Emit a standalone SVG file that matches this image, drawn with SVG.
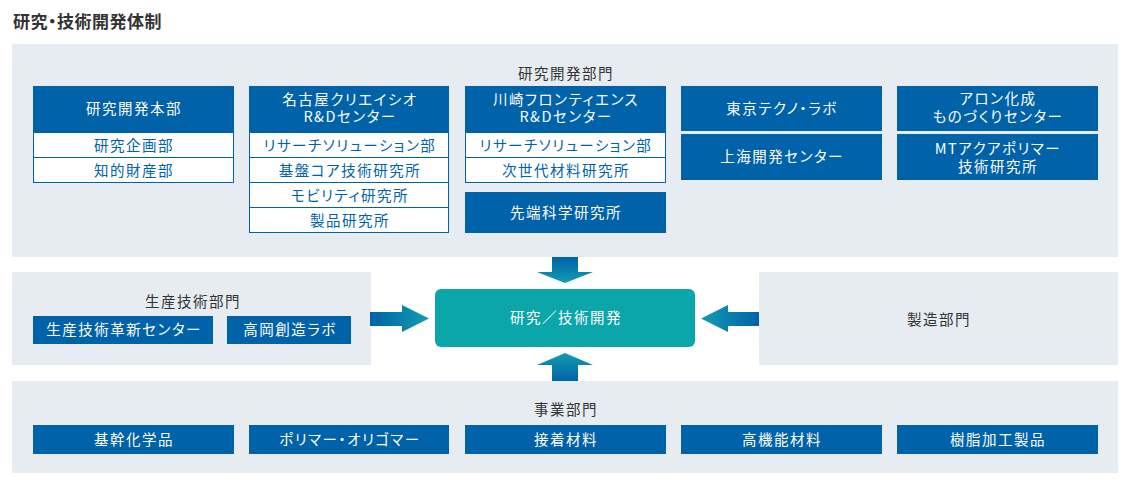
<svg xmlns="http://www.w3.org/2000/svg" width="1138" height="489" viewBox="0 0 1138 489">
<style>
text{font-family:"Noto Sans CJK JP","Noto Sans",sans-serif;font-size:14.5px;letter-spacing:1.5px;text-anchor:middle;font-feature-settings:"palt"}
.title{font-size:17px;font-weight:bold;text-anchor:start;letter-spacing:0.5px;fill:#333}
.panel{fill:#e6ecf2}
.blue{fill:#0062a8}
.row{fill:#fff;stroke:#0062a8;stroke-width:1}
.w{fill:#fff}
.b{fill:#0062a8}
.d{fill:#333}
.core{fill:#0aa6a9}
</style>
<defs>
<linearGradient id="gR" x1="0" y1="0" x2="1" y2="0"><stop offset="0" stop-color="#0062a8"/><stop offset="1" stop-color="#139db0"/></linearGradient>
<linearGradient id="gL" x1="1" y1="0" x2="0" y2="0"><stop offset="0" stop-color="#0062a8"/><stop offset="1" stop-color="#139db0"/></linearGradient>
<linearGradient id="gD" x1="0" y1="0" x2="0" y2="1"><stop offset="0" stop-color="#0062a8"/><stop offset="1" stop-color="#139db0"/></linearGradient>
<linearGradient id="gU" x1="0" y1="1" x2="0" y2="0"><stop offset="0" stop-color="#0062a8"/><stop offset="1" stop-color="#139db0"/></linearGradient>
</defs>
<rect width="1138" height="489" fill="#fff"/>
<text class="title" x="13" y="28">研究・技術開発体制</text>

<g id="rd-division">
<rect class="panel" x="12" y="44" width="1106" height="213"/>
<text class="d" x="566" y="79">研究開発部門</text>
</g>

<g id="rd-hq">
<rect class="blue" x="33" y="86" width="201" height="46"/>
<text class="w" x="134" y="114">研究開発本部</text>
<rect class="row" x="33.5" y="132.5" width="200" height="25"/>
<text class="b" x="134" y="151">研究企画部</text>
<rect class="row" x="33.5" y="157.5" width="200" height="25"/>
<text class="b" x="134" y="176">知的財産部</text>
</g>

<g id="nagoya">
<rect class="blue" x="249" y="86" width="200" height="46"/>
<text class="w" x="350" y="105">名古屋クリエイシオ</text>
<text class="w" x="350" y="122">R&amp;Dセンター</text>
<rect class="row" x="249.5" y="132.5" width="199" height="25"/>
<text class="b" x="350" y="151">リサーチソリューション部</text>
<rect class="row" x="249.5" y="157.5" width="199" height="25"/>
<text class="b" x="350" y="176">基盤コア技術研究所</text>
<rect class="row" x="249.5" y="182.5" width="199" height="25"/>
<text class="b" x="350" y="201">モビリティ研究所</text>
<rect class="row" x="249.5" y="207.5" width="199" height="25"/>
<text class="b" x="350" y="226">製品研究所</text>
</g>

<g id="kawasaki">
<rect class="blue" x="465" y="86" width="201" height="46"/>
<text class="w" x="566" y="105">川崎フロンティエンス</text>
<text class="w" x="566" y="122">R&amp;Dセンター</text>
<rect class="row" x="465.5" y="132.5" width="200" height="25"/>
<text class="b" x="566" y="151">リサーチソリューション部</text>
<rect class="row" x="465.5" y="157.5" width="200" height="25"/>
<text class="b" x="566" y="176">次世代材料研究所</text>
</g>

<g id="advanced-science">
<rect class="blue" x="465" y="192" width="201" height="41"/>
<text class="w" x="566" y="218">先端科学研究所</text>
</g>

<g id="tokyo">
<rect class="blue" x="681" y="86" width="201" height="45"/>
<text class="w" x="782" y="114">東京テクノ・ラボ</text>
</g>
<g id="shanghai">
<rect class="blue" x="681" y="134" width="201" height="46"/>
<text class="w" x="782" y="162">上海開発センター</text>
</g>
<g id="aron">
<rect class="blue" x="897" y="86" width="201" height="45"/>
<text class="w" x="998" y="104">アロン化成</text>
<text class="w" x="998" y="122">ものづくりセンター</text>
</g>
<g id="mt-aqua">
<rect class="blue" x="897" y="134" width="201" height="46"/>
<text class="w" x="998" y="154">MTアクアポリマー</text>
<text class="w" x="998" y="172">技術研究所</text>
</g>

<g id="production-eng">
<rect class="panel" x="12" y="272" width="359" height="93"/>
<text class="d" x="193" y="307">生産技術部門</text>
<rect class="blue" x="33" y="316" width="180" height="28"/>
<text class="w" x="124" y="335">生産技術革新センター</text>
<rect class="blue" x="227" y="316" width="124" height="28"/>
<text class="w" x="290" y="335">高岡創造ラボ</text>
</g>

<g id="manufacturing">
<rect class="panel" x="759" y="272" width="359" height="93"/>
<text class="d" x="939" y="325">製造部門</text>
</g>

<g id="core">
<rect class="core" x="435" y="289" width="260" height="58" rx="6"/>
<text class="w" x="566" y="323">研究／技術開発</text>
</g>

<g id="business">
<rect class="panel" x="12" y="381" width="1106" height="92"/>
<text class="d" x="566" y="415">事業部門</text>
<rect class="blue" x="33" y="425" width="201" height="29"/>
<text class="w" x="134" y="445">基幹化学品</text>
<rect class="blue" x="249" y="425" width="200" height="29"/>
<text class="w" x="350" y="445">ポリマー・オリゴマー</text>
<rect class="blue" x="465" y="425" width="201" height="29"/>
<text class="w" x="566" y="445">接着材料</text>
<rect class="blue" x="681" y="425" width="201" height="29"/>
<text class="w" x="782" y="445">高機能材料</text>
<rect class="blue" x="897" y="425" width="201" height="29"/>
<text class="w" x="998" y="445">樹脂加工製品</text>
</g>

<g id="connectors">
<polygon fill="url(#gR)" points="370,312 402,312 402,305 429,318.5 402,332 402,326 370,326"/>
<polygon fill="url(#gL)" points="759,312 728,312 728,305 701,318.5 728,332 728,326 759,326"/>
<polygon fill="url(#gD)" points="552,257 578,257 578,272 593,272 565,283 537,272 552,272"/>
<polygon fill="url(#gU)" points="565,353 593,365 578,365 578,381 552,381 552,365 537,365"/>
</g>
</svg>
